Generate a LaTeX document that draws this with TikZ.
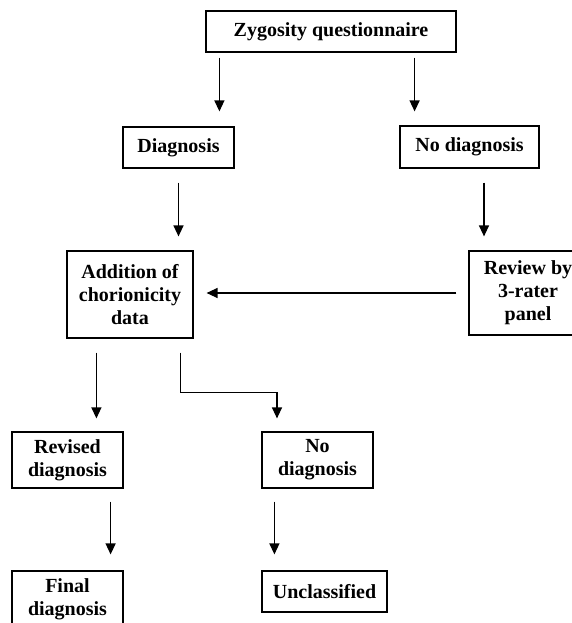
\documentclass[tikz,border=0pt]{standalone}
\usepackage{fontspec}
\setmainfont{Liberation Serif}
\usetikzlibrary{arrows.meta,calc}

\begin{document}
\begin{tikzpicture}[x=1pt,y=1pt,
    box/.style={draw, line width=1.2pt, inner sep=0pt, align=center,
      font=\bfseries\fontsize{20}{23}\selectfont},
    arr/.style={line width=1.3pt, -{Triangle[width=10pt,length=11pt]}}]
  \useasboundingbox (0,0) rectangle (571,-623);

  % Boxes
  \node[box, minimum width=250, minimum height=41] (zyg) at (331,-31.5) {Zygosity questionnaire};
  \node[box, minimum width=111, minimum height=41] (diag) at (178.5,-147.5) {Diagnosis};
  \node[box, minimum width=139, minimum height=42] (nodiag) at (469.5,-147) {No diagnosis};
  \node[box, minimum width=126, minimum height=87] (add) at (130,-294.5) {Addition of\\chorionicity\\data};
  \node[box, minimum width=118, minimum height=84] (review) at (528,-293) {Review by\\3-rater\\panel};
  \node[box, minimum width=111, minimum height=56] (rev) at (67.5,-460) {Revised\\diagnosis};
  \node[box, minimum width=111, minimum height=56] (nodiagb) at (317.5,-460) {No\\diagnosis};
  \node[box, minimum width=111, minimum height=56] (final) at (67.5,-599) {Final\\diagnosis};
  \node[box, minimum width=125, minimum height=41] (uncl) at (324.5,-591.5) {Unclassified};

  % Arrows from the questionnaire
  \draw[arr] ([shift={(14,-5)}]zyg.south west) -- ([shift={(14,15)}]zyg.south west |- diag.north);
  \draw[arr] ([shift={(-42,-5)}]zyg.south east) -- ([shift={(-42,14)}]zyg.south east |- nodiag.north);

  % Second level
  \draw[arr] ([yshift=-14pt]diag.south) -- ([yshift=14pt]diag.south |- add.north);
  \draw[arr] ([shift={(14.5,-14)}]nodiag.south) -- ([shift={(14.5,14)}]nodiag.south |- review.north);
  \draw[arr] ([xshift=-12pt]review.west) -- ([xshift=13pt]add.east |- review.west);

  % Below the chorionicity box
  \draw[arr] ([shift={(30,-14)}]add.south west) -- ([shift={(30,13)}]add.south west |- rev.north);
  \coordinate (bend) at ([shift={(-40.5,13)}]nodiagb.north);
  \draw[arr] ([shift={(-13,-14)}]add.south east) |- ($(bend)+(0,26)$) -- (bend);

  % Last level
  \draw[arr] ([shift={(-13,-13)}]rev.south east) -- ([shift={(-13,16)}]rev.south east |- final.north);
  \draw[arr] ([shift={(13,-13)}]nodiagb.south west) -- ([shift={(13,16)}]nodiagb.south west |- uncl.north);
\end{tikzpicture}
\end{document}
